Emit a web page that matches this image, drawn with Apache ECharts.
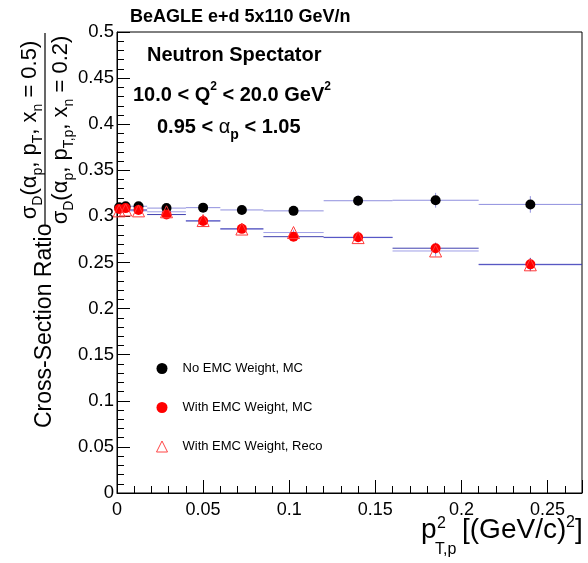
<!DOCTYPE html>
<html>
<head>
<meta charset="utf-8">
<script src="https://cdn.jsdelivr.net/npm/echarts@6/dist/echarts.min.js"></script>
<style>
  html, body { margin: 0; padding: 0; background: #fff; }
  #chart { width: 588px; height: 563px; }
</style>
</head>
<body>
<div id="chart"></div>
<script>
// bins in p_T,p^2 and the three ratio curves
var binLow    = [0, 0.0025, 0.0075, 0.0175, 0.04, 0.06, 0.085, 0.12, 0.16, 0.21];
var binHigh   = [0.0025, 0.0075, 0.0175, 0.04, 0.06, 0.085, 0.12, 0.16, 0.21, 0.27];
var binCenter = [0.00125, 0.005, 0.0125, 0.02875, 0.05, 0.0725, 0.1025, 0.14, 0.185, 0.24];

var noEmcMC      = [0.310, 0.311, 0.311, 0.309, 0.3095, 0.307, 0.306, 0.317, 0.3175, 0.313];
var noEmcMCErr   = [0.002, 0.002, 0.002, 0.002, 0.002, 0.003, 0.003, 0.006, 0.008, 0.009];
var emcMC        = [0.308, 0.309, 0.307, 0.302, 0.295, 0.2865, 0.278, 0.2773, 0.2655, 0.248];
var emcMCErr     = [0.002, 0.002, 0.002, 0.002, 0.002, 0.003, 0.003, 0.005, 0.006, 0.007];
var emcReco      = [0.306, 0.307, 0.306, 0.305, 0.2955, 0.2863, 0.2825, 0.277, 0.2625, 0.2475];
var emcRecoErr   = [0.002, 0.002, 0.002, 0.002, 0.002, 0.003, 0.003, 0.005, 0.006, 0.007];

var seriesNames = ['No EMC Weight, MC', 'With EMC Weight, MC', 'With EMC Weight, Reco'];

var FONT = 'Liberation Sans';

function points(vals) {
  return binCenter.map(function (x, i) { return [x, vals[i]]; });
}
function bars(vals, errs) {
  return binCenter.map(function (x, i) { return [binLow[i], binHigh[i], x, vals[i], errs[i]]; });
}
function errorBars(color, width) {
  return function (params, api) {
    var y = api.value(3), e = api.value(4);
    var a = api.coord([api.value(0), y]);
    var b = api.coord([api.value(1), y]);
    var t = api.coord([api.value(2), y + e]);
    var u = api.coord([api.value(2), y - e]);
    return {
      type: 'group',
      children: [
        { type: 'line', shape: { x1: a[0], y1: a[1], x2: b[0], y2: b[1] }, style: { stroke: color, lineWidth: width } },
        { type: 'line', shape: { x1: t[0], y1: t[1], x2: u[0], y2: u[1] }, style: { stroke: color, lineWidth: width } }
      ]
    };
  };
}

var chart = echarts.init(document.getElementById('chart'), null, { renderer: 'canvas' });

var richMain = { fontFamily: FONT, fontSize: 22, color: '#000', lineHeight: 30, verticalAlign: 'middle' };
var richSub = { fontFamily: FONT, fontSize: 14, color: '#000', lineHeight: 16, verticalAlign: 'bottom' };

chart.setOption({
  animation: false,
  backgroundColor: '#fff',
  grid: { left: 117, right: 6, top: 32, bottom: 70, show: true, borderColor: '#000', borderWidth: 1 },
  legend: {
    orient: 'vertical',
    left: 151,
    top: 357,
    itemWidth: 11,
    itemHeight: 11,
    itemGap: 26,
    selectedMode: false,
    textStyle: { fontFamily: FONT, fontSize: 13, color: '#000', padding: [0, 0, 0, 10] },
    data: [
      { name: seriesNames[0], icon: 'circle' },
      { name: seriesNames[1], icon: 'circle' },
      { name: seriesNames[2], icon: 'triangle', itemStyle: { color: '#fff', borderColor: '#ff4545', borderWidth: 1 } }
    ]
  },
  xAxis: {
    type: 'value',
    min: 0,
    max: 0.27,
    interval: 0.05,
    axisLine: { lineStyle: { color: '#000', width: 1 } },
    axisTick: { inside: true, length: 13, lineStyle: { color: '#000' } },
    minorTick: { show: true, splitNumber: 5, length: 7, lineStyle: { color: '#000' } },
    splitLine: { show: false },
    axisLabel: { fontFamily: FONT, fontSize: 18, color: '#000', margin: 8, showMaxLabel: false }
  },
  yAxis: {
    type: 'value',
    min: 0,
    max: 0.5,
    interval: 0.05,
    axisLine: { lineStyle: { color: '#000', width: 1 } },
    axisTick: { inside: true, length: 13, lineStyle: { color: '#000' } },
    minorTick: { show: true, splitNumber: 5, length: 7, lineStyle: { color: '#000' } },
    splitLine: { show: false },
    axisLabel: { fontFamily: FONT, fontSize: 18.5, color: '#000', margin: 3 }
  },
  graphic: [
    { type: 'text', x: 130, y: 17, style: { text: 'BeAGLE e+d 5x110 GeV/n', fontFamily: FONT, fontSize: 18, fontWeight: 'bold', fill: '#000', verticalAlign: 'middle' } },
    { type: 'text', x: 147, y: 55, style: { text: 'Neutron Spectator', fontFamily: FONT, fontSize: 20, fontWeight: 'bold', fill: '#000', verticalAlign: 'middle' } },
    { type: 'text', x: 133, y: 95.5, style: {
        text: '{m|10.0 < Q}{sup|2}{m| < 20.0 GeV}{sup|2}',
        verticalAlign: 'middle',
        rich: {
          m: { fontFamily: FONT, fontSize: 20, fontWeight: 'bold', color: '#000', lineHeight: 30, verticalAlign: 'middle' },
          sup: { fontFamily: FONT, fontSize: 12, fontWeight: 'bold', color: '#000', lineHeight: 21, verticalAlign: 'top' }
        }
      } },
    { type: 'text', x: 157, y: 127, style: {
        text: '{m|0.95 < }{g|α}{sub|p}{m| < 1.05}',
        verticalAlign: 'middle',
        rich: {
          m: { fontFamily: FONT, fontSize: 20, fontWeight: 'bold', color: '#000', lineHeight: 30, verticalAlign: 'middle' },
          g: { fontFamily: FONT, fontSize: 20, color: '#000', lineHeight: 30, verticalAlign: 'middle' },
          sub: { fontFamily: FONT, fontSize: 14, fontWeight: 'bold', color: '#000', lineHeight: 18, verticalAlign: 'bottom' }
        }
      } },
    // y axis title, rotated
    { type: 'group', x: 45, y: 428, rotation: Math.PI / 2, children: [
      { type: 'text', x: 0, y: 0, style: { text: 'Cross-Section Ratio', fontFamily: FONT, fontSize: 23, fill: '#000', verticalAlign: 'middle', align: 'left' } },
      { type: 'line', shape: { x1: 202, y1: 0, x2: 395, y2: 0 }, style: { stroke: '#000', lineWidth: 1.2 } },
      { type: 'text', x: 298, y: -15, style: {
          text: '{m|σ}{s|D}{m|(α}{s|p}{m|, p}{s|T}{m|, x}{s|n}{m| = 0.5)}',
          align: 'center', verticalAlign: 'middle',
          rich: { m: richMain, s: richSub }
        } },
      { type: 'text', x: 298, y: 16, style: {
          text: '{m|σ}{s|D}{m|(α}{s|p}{m|, p}{s|T,p}{m|, x}{s|n}{m| = 0.2)}',
          align: 'center', verticalAlign: 'middle',
          rich: { m: richMain, s: richSub }
        } }
    ] },
    // x axis title
    { type: 'text', x: 421, y: 530, style: { text: 'p', fontFamily: FONT, fontSize: 28, fill: '#000', verticalAlign: 'middle' } },
    { type: 'text', x: 437, y: 524, style: { text: '2', fontFamily: FONT, fontSize: 16, fill: '#000', verticalAlign: 'middle' } },
    { type: 'text', x: 435, y: 550, style: { text: 'T,p', fontFamily: FONT, fontSize: 16, fill: '#000', verticalAlign: 'middle' } },
    { type: 'text', x: 462, y: 530, style: { text: '[(GeV/c)', fontFamily: FONT, fontSize: 28, fill: '#000', verticalAlign: 'middle' } },
    { type: 'text', x: 566, y: 523, style: { text: '2', fontFamily: FONT, fontSize: 16, fill: '#000', verticalAlign: 'middle' } },
    { type: 'text', x: 575, y: 530, style: { text: ']', fontFamily: FONT, fontSize: 28, fill: '#000', verticalAlign: 'middle' } }
  ],
  series: [
    {
      name: 'err0', type: 'custom', renderItem: errorBars('rgba(70,70,200,0.6)', 1),
      encode: { x: [0, 1], y: 3 }, data: bars(noEmcMC, noEmcMCErr), silent: true
    },
    {
      name: seriesNames[0], type: 'scatter', symbol: 'circle', symbolSize: 10,
      itemStyle: { color: '#000', opacity: 1 }, data: points(noEmcMC)
    },
    {
      name: 'err1', type: 'custom', renderItem: errorBars('rgba(30,30,160,0.85)', 1),
      encode: { x: [0, 1], y: 3 }, data: bars(emcMC, emcMCErr), silent: true
    },
    {
      name: seriesNames[1], type: 'scatter', symbol: 'circle', symbolSize: 10,
      itemStyle: { color: '#ff0000', opacity: 1 }, data: points(emcMC)
    },
    {
      name: 'err2', type: 'custom', renderItem: errorBars('rgba(80,80,210,0.55)', 1),
      encode: { x: [0, 1], y: 3 }, data: bars(emcReco, emcRecoErr), silent: true
    },
    {
      name: seriesNames[2], type: 'scatter', symbol: 'triangle', symbolSize: 12,
      itemStyle: { color: 'rgba(255,255,255,0)', borderColor: '#ff3a3a', borderWidth: 1, opacity: 1 },
      data: points(emcReco)
    }
  ]
});
window.addEventListener('resize', function () { chart.resize(); });
</script>
</body>
</html>
